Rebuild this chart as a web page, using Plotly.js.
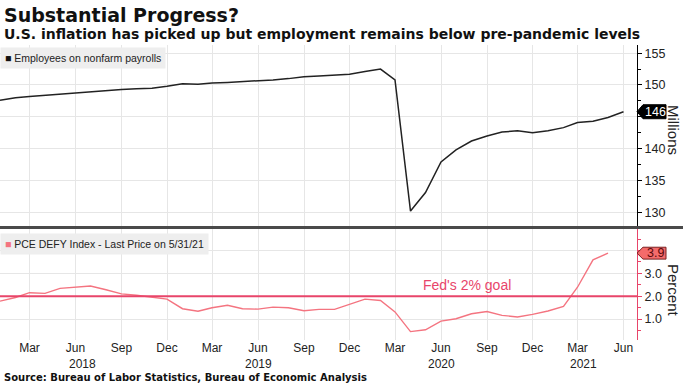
<!DOCTYPE html>
<html>
<head>
<meta charset="utf-8">
<script src="https://cdn.plot.ly/plotly-3.0.1.min.js"></script>
<style>
  html, body { margin: 0; padding: 0; background: #fff; }
  #chart { width: 683px; height: 384px; }
</style>
</head>
<body>
<div id="chart"></div>
<script>
// ---- Data (monthly) ----
const payrollDates = [
  "2018-01-01","2018-02-01","2018-03-01","2018-04-01","2018-05-01","2018-06-01","2018-07-01","2018-08-01","2018-09-01","2018-10-01","2018-11-01","2018-12-01",
  "2019-01-01","2019-02-01","2019-03-01","2019-04-01","2019-05-01","2019-06-01","2019-07-01","2019-08-01","2019-09-01","2019-10-01","2019-11-01","2019-12-01",
  "2020-01-01","2020-02-01","2020-03-01","2020-04-01","2020-05-01","2020-06-01","2020-07-01","2020-08-01","2020-09-01","2020-10-01","2020-11-01","2020-12-01",
  "2021-01-01","2021-02-01","2021-03-01","2021-04-01","2021-05-01","2021-06-01"
];
const payrollMillions = [
  147.6,148.0,148.2,148.4,148.6,148.8,148.9,149.2,149.3,149.4,149.5,149.8,
  150.2,150.1,150.3,150.4,150.5,150.7,150.8,151.0,151.3,151.4,151.5,151.7,
  152.1,152.5,150.8,130.2,133.1,137.9,139.8,141.2,142.0,142.6,142.8,142.5,
  142.8,143.3,144.1,144.3,144.9,145.8
];
const pceDates = payrollDates.slice(0, 41);
const pcePercent = [
  1.78,1.94,2.15,2.12,2.34,2.39,2.44,2.28,2.10,2.04,1.96,1.87,
  1.45,1.34,1.49,1.60,1.45,1.43,1.52,1.49,1.36,1.42,1.42,1.64,
  1.87,1.81,1.31,0.45,0.53,0.91,1.01,1.23,1.33,1.16,1.09,1.20,
  1.35,1.55,2.39,3.59,3.88
];
const fedGoal = 2.0;
const tickDates = [
  "2018-03-01","2018-06-01","2018-09-01","2018-12-01",
  "2019-03-01","2019-06-01","2019-09-01","2019-12-01",
  "2020-03-01","2020-06-01","2020-09-01","2020-12-01",
  "2021-03-01","2021-06-01"
];
const tickLabels = ["Mar","Jun","Sep","Dec","Mar","Jun","Sep","Dec","Mar","Jun","Sep","Dec","Mar","Jun"];
const yearLabels = ["2018","2019","2020","2021"];
const yearPositions = ["2018-06-15","2019-06-01","2020-06-01","2021-03-12"];
const payrollTicks = [130,135,140,145,150,155];
const payrollTickText = ["130","135","140","","150","155"];
const pceTicks = [1,2,3,4];
const pceTickText = ["1.0","2.0","3.0",""];

// ---- Styles ----
const FONT = "'Liberation Sans', Arial, sans-serif";
const BOLD = "'DejaVu Sans', 'Liberation Sans', sans-serif";
const BLACK = "#222222";
const SALMON = "#f47480";
const GOALRED = "#e8456a";
const GRID = "#e6e6e6";

const traces = [
  {x: payrollDates, y: payrollMillions, type: "scatter", mode: "lines",
   line: {color: BLACK, width: 1.5}, xaxis: "x", yaxis: "y", hoverinfo: "skip"},
  {x: pceDates, y: pcePercent, type: "scatter", mode: "lines",
   line: {color: SALMON, width: 1.4}, xaxis: "x", yaxis: "y2", hoverinfo: "skip"}
];

const PW = 637; // plot width in px (paper x = px / PW)
const lastPay = payrollMillions[payrollMillions.length - 1];
const lastPce = pcePercent[pcePercent.length - 1];
function tagPath(yc, halfH) {
  const tip = 1.0, shoulder = 1.0 + 6 / PW, end = 1.0 + 29 / PW;
  return `M ${tip},${yc} L ${shoulder},${yc + halfH} L ${end},${yc + halfH} L ${end},${yc - halfH} L ${shoulder},${yc - halfH} Z`;
}

const layout = {
  width: 683, height: 384,
  margin: {l: 0, r: 46, t: 45, b: 44, pad: 0},
  paper_bgcolor: "#ffffff", plot_bgcolor: "#ffffff",
  showlegend: false,
  font: {family: FONT, size: 12, color: BLACK},
  xaxis: {
    type: "date", range: ["2018-01-01", "2021-06-28"],
    anchor: "y2", tickmode: "array", tickvals: tickDates, ticktext: tickLabels,
    showgrid: true, gridcolor: GRID, gridwidth: 1, zeroline: false,
    showline: false, ticks: "", tickfont: {family: FONT, size: 12, color: BLACK},
    ticklabelstandoff: -1,
    fixedrange: true
  },
  yaxis: {
    domain: [0.386, 1], range: [127.83, 156.28], side: "right", anchor: "x",
    tickmode: "array", tickvals: payrollTicks, ticktext: payrollTickText,
    showgrid: true, gridcolor: GRID, zeroline: false,
    showline: true, linecolor: "#000", linewidth: 1,
    ticks: "outside", ticklen: 4, tickcolor: "#000",
    minor: {dtick: 2.5, ticks: "outside", ticklen: 3, tickcolor: "#000", showgrid: false},
    tickfont: {family: FONT, size: 12.5, color: BLACK}
  },
  yaxis2: {
    domain: [0, 0.376], range: [0.081, 4.934], side: "right", anchor: "x",
    tickmode: "array", tickvals: pceTicks, ticktext: pceTickText,
    showgrid: true, gridcolor: GRID, zeroline: false,
    showline: true, linecolor: GOALRED, linewidth: 1,
    ticks: "outside", ticklen: 4, tickcolor: GOALRED,
    minor: {dtick: 0.5, ticks: "outside", ticklen: 3, tickcolor: GOALRED, showgrid: false},
    tickfont: {family: FONT, size: 12.5, color: BLACK}
  },
  shapes: [
    {type: "line", xref: "paper", yref: "y2", x0: 0, x1: 1, y0: fedGoal, y1: fedGoal,
     line: {color: GOALRED, width: 2}},
    {type: "line", xref: "paper", yref: "paper", x0: 0, x1: 683 / PW, y0: 0.3814, y1: 0.3814,
     line: {color: "#4a4a4a", width: 3}},
    {type: "path", xref: "paper", yref: "y", path: tagPath(lastPay, 1.1),
     fillcolor: "#000000", line: {color: "#000000", width: 1}},
    {type: "path", xref: "paper", yref: "y2", path: tagPath(lastPce, 0.26),
     fillcolor: "#f46b6b", line: {color: "#7a2020", width: 1}}
  ],
  annotations: [
    {xref: "paper", yref: "paper", x: 0.003, y: 1.1017, xanchor: "left", yanchor: "middle",
     text: "<b>Substantial Progress?</b>", showarrow: false,
     font: {family: BOLD, size: 19, color: "#111"}},
    {xref: "paper", yref: "paper", x: 0.003, y: 1.037, xanchor: "left", yanchor: "middle",
     text: "<b>U.S. inflation has picked up but employment remains below pre-pandemic levels</b>", showarrow: false,
     font: {family: BOLD, size: 14, color: "#111"}},
    {xref: "paper", yref: "paper", x: 0.003, y: -0.1288, xanchor: "left", yanchor: "middle",
     text: "<b>Source: Bureau of Labor Statistics, Bureau of Economic Analysis</b>", showarrow: false,
     font: {family: BOLD, size: 10, color: "#111"}},
    // legends
    {xref: "paper", yref: "paper", x: 0, y: (340 - 57.5) / 295, xanchor: "left", yanchor: "middle",
     text: "<span style='color:#111'>■</span> Employees on nonfarm payrolls", showarrow: false,
     bgcolor: "#eeeeee", borderpad: 4, font: {family: FONT, size: 10.5, color: "#222"}},
    {xref: "paper", yref: "paper", x: 0, y: (340 - 244) / 295, xanchor: "left", yanchor: "middle",
     text: "<span style='color:" + SALMON + "'>■</span> PCE DEFY Index - Last Price on 5/31/21", showarrow: false,
     bgcolor: "#eeeeee", borderpad: 4, font: {family: FONT, size: 10.5, color: "#222"}},
    // Fed goal label
    {xref: "x", yref: "y2", x: "2020-07-22", y: fedGoal, xanchor: "center", yanchor: "bottom", yshift: 1,
     text: "Fed's 2% goal", showarrow: false, font: {family: FONT, size: 14, color: GOALRED}},
    // last-value tags
    {xref: "paper", yref: "y", x: 1.0 + 18 / PW, y: lastPay, xanchor: "center", yanchor: "middle",
     text: String(Math.round(lastPay)), showarrow: false, font: {family: FONT, size: 12.5, color: "#ffffff"}},
    {xref: "paper", yref: "y2", x: 1.0 + 18 / PW, y: lastPce, xanchor: "center", yanchor: "middle",
     text: lastPce.toFixed(1), showarrow: false, font: {family: FONT, size: 12.5, color: "#5a0a0a"}},
    // axis titles
    {xref: "paper", yref: "paper", x: 1.0 + 37 / PW, y: (340 - 130) / 295, xanchor: "center", yanchor: "middle",
     text: "Millions", textangle: 90, showarrow: false, font: {family: FONT, size: 15, color: BLACK}},
    {xref: "paper", yref: "paper", x: 1.0 + 37 / PW, y: (340 - 290) / 295, xanchor: "center", yanchor: "middle",
     text: "Percent", textangle: 90, showarrow: false, font: {family: FONT, size: 15, color: BLACK}}
  ]
};
// year labels under month ticks
yearLabels.forEach((t, i) => {
  layout.annotations.push({xref: "x", yref: "paper", x: yearPositions[i], y: (340 - 364) / 295,
    xanchor: "center", yanchor: "middle", text: t, showarrow: false,
    font: {family: FONT, size: 12, color: BLACK}});
});

Plotly.newPlot("chart", traces, layout, {displayModeBar: false, staticPlot: true});
</script>
</body>
</html>
